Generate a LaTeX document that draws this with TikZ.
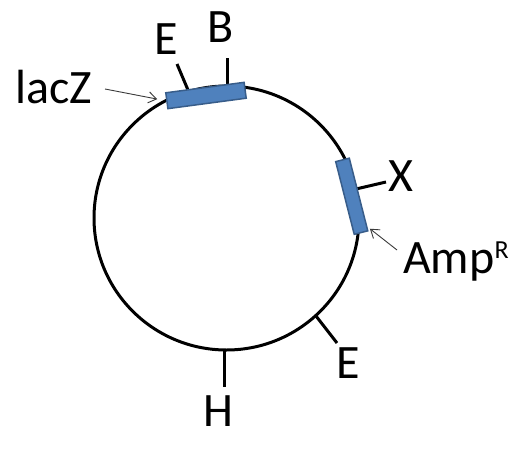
\documentclass[tikz,border=0pt]{standalone}
\usepackage{fontspec}
\setmainfont{Carlito}
\usetikzlibrary{arrows.meta}
\definecolor{plasBlue}{HTML}{4F81BD}
\definecolor{plasEdge}{HTML}{385D8A}
\definecolor{plasGray}{HTML}{3A3A3A}

\tikzset{
  gene/.style={draw=plasEdge, line width=1.5pt, fill=plasBlue, inner sep=0pt},
  site/.style={line width=3pt},
  pointer/.style={draw=plasGray, line width=0.9pt, -{Straight Barb[length=8pt,width=11pt]}},
  lbl/.style={inner sep=0pt, anchor=base, font=\fontsize{48}{56}\selectfont}
}

\begin{document}
\begin{tikzpicture}[x=1pt,y=-1pt]
    \useasboundingbox (0,0) rectangle (532,460);
    % the plasmid
    \draw[line width=3pt] (226.5,218) ellipse [x radius=132.5, y radius=132];

    % restriction sites
    \coordinate (EtopIn) at (188,90);   \coordinate (EtopOut) at (177,64);
    \coordinate (BIn) at (227,86);      \coordinate (BOut) at (227,58);
    \coordinate (XIn) at (356,189);     \coordinate (XOut) at (386,182);
    \coordinate (EbotIn) at (316,316);  \coordinate (EbotOut) at (337,343);
    \coordinate (HIn) at (224,349);     \coordinate (HOut) at (224,387);
    \draw[site] (EtopIn) -- (EtopOut);
    \draw[site] (BIn) -- (BOut);
    \draw[site] (XIn) -- (XOut);
    \draw[site] (EbotIn) -- (EbotOut);
    \draw[site] (HIn) -- (HOut);

    % genes
    \node[gene, minimum width=79pt, minimum height=16pt, rotate=7.6] (lacZbox) at (206,95.5) {};
    \node[gene, minimum width=14pt, minimum height=75pt, rotate=14.3] (ampbox) at (351.75,196.25) {};

    % labels
    \node[lbl] (lacZ) at (53.5,103) {lacZ};
    \node[lbl] (Etop) at (166,55) {E};
    \node[lbl] (B) at (221,43) {B};
    \node[lbl] (X) at (401,191) {X};
    \node[lbl, anchor=base west] (ampR) at (403,273) {Amp\raisebox{15pt}{\fontsize{26}{30}\selectfont R}};
    \node[lbl] (Ebot) at (348,378) {E};
    \node[lbl] (H) at (218.5,426) {H};

    % pointers
    \coordinate (lacZtail) at (105,89);
    \coordinate (ampTail) at (397,250);
    \draw[pointer, shorten >=9pt] (lacZtail) -- (lacZbox.west);
    \draw[pointer, shorten >=3pt] (ampTail) -- (ampbox.-77);
\end{tikzpicture}
\end{document}
